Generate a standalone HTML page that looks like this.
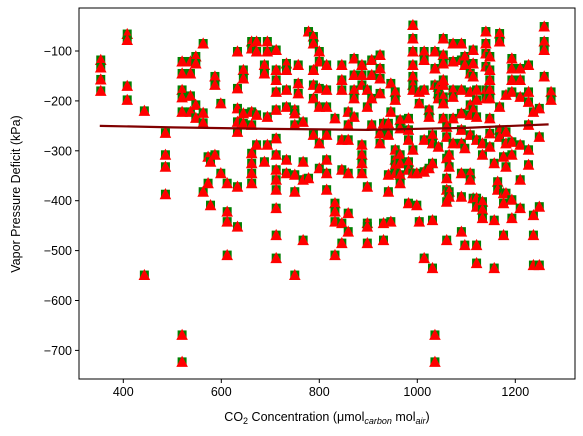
<!DOCTYPE html>
<html><head><meta charset="utf-8"><style>
body{margin:0;background:#fff;}
svg{display:block;font-family:"Liberation Sans","DejaVu Sans",sans-serif;}
</style></head><body>
<svg id="chart" width="583" height="436" viewBox="0 0 583 436">
<g id="marks"></g>
<g id="axes"></g>
<text x="327" y="421" text-anchor="middle" font-size="12.5">CO<tspan font-size="9" dy="3">2</tspan><tspan dy="-3"> Concentration (μmol</tspan><tspan font-size="9" dy="3" font-style="italic">carbon</tspan><tspan dy="-3"> mol</tspan><tspan font-size="9" dy="3" font-style="italic">air</tspan><tspan dy="-3">)</tspan></text>
<text transform="translate(20,194) rotate(-90)" text-anchor="middle" font-size="12.5">Vapor Pressure Deficit (kPa)</text>
</svg>
<script>
const xs=[354,354,354,354,408,408,408,408,443,443,486,486,486,486,520,520,520,520,520,520,520,537,537,537,537,548,548,548,548,563,563,563,563,573,573,
578,578,587,587,587,599,599,612,612,612,612,633,633,633,633,633,633,633,645,645,645,645,662,662,662,662,662,662,662,662,672,672,672,672,688,688,688,694,694,694,694,
712,712,712,712,712,712,712,712,712,712,712,712,712,733,733,733,733,733,733,750,750,750,750,750,750,757,757,757,767,767,767,767,778,778,788,788,788,788,788,788,
800,800,800,800,800,800,815,815,815,815,815,815,815,
832,832,832,832,832,846,846,846,846,846,846,846,859,859,859,859,859,859,871,871,871,871,871,887,887,887,887,887,887,887,898,898,898,898,898,898,907,907,907,907,
924,924,924,924,924,924,931,931,931,941,941,941,941,946,946,946,955,955,955,955,955,955,965,965,965,965,965,965,982,982,982,982,982,982,
991,991,991,991,991,991,991,991,991,999,999,1004,1004,1004,1014,1014,1014,1014,1014,1014,1024,1024,1024,1031,1031,1031,1031,1031,1036,1036,1036,1036,1036,
1043,1043,1043,1043,1053,1053,1053,1053,1053,1053,1053,1053,1060,1060,1060,1060,1060,1060,1060,
1073,1073,1073,1073,1073,1073,1065,1065,1065,1065,1090,1090,1090,1090,1090,1090,1090,1090,1090,1097,1097,1097,1097,1108,1108,1108,1108,1108,1108,1108,
1114,1114,1114,1114,1114,1121,1121,1121,1121,1121,1121,1121,1121,1133,1133,1133,1133,1133,1140,1140,1140,1140,1140,1140,
1148,1148,1148,1148,1148,1148,1148,1148,1157,1157,1157,1164,1164,1168,1168,1168,1168,1168,1176,1176,1176,1176,1181,1181,1181,1181,1181,
1193,1193,1193,1193,1193,1193,1193,1193,1210,1210,1210,1210,1210,1210,1227,1227,1227,1227,1227,1227,1237,1237,1237,1237,1249,1249,1249,1249,1259,1259,1259,1259,1273,1273];
const ys=[-118,-133,-157,-180,-66,-78,-170,-198,-220,-549,-264,-308,-332,-387,-121,-145,-178,-193,-222,-669,-723,-121,-145,-190,-222,-111,-125,-208,-234,-85,-224,-244,-382,-312,-365,
-322,-409,-151,-168,-308,-205,-345,-365,-422,-442,-509,-101,-175,-215,-242,-262,-372,-452,-138,-155,-225,-245,-81,-95,-222,-248,-305,-325,-345,-365,-81,-101,-228,-288,-128,-145,-322,-81,-101,-232,-288,
-98,-138,-158,-182,-218,-275,-308,-338,-358,-378,-415,-469,-515,-125,-138,-178,-212,-318,-345,-218,-225,-248,-348,-382,-549,-128,-165,-185,-242,-322,-358,-479,-61,-355,-71,-85,-138,-168,-195,-268,
-101,-121,-175,-212,-285,-335,-128,-178,-212,-268,-318,-345,-378,
-235,-405,-422,-442,-509,-128,-158,-178,-278,-338,-445,-485,-222,-248,-278,-345,-425,-462,-115,-148,-178,-195,-232,-128,-148,-168,-288,-308,-325,-345,-178,-212,-372,-445,-452,-485,-118,-148,-195,-248,
-108,-135,-155,-185,-265,-285,-245,-445,-479,-245,-268,-348,-382,-165,-222,-442,-182,-198,-298,-318,-328,-345,-238,-255,-308,-325,-348,-365,-235,-258,-278,-322,-338,-405,
-48,-75,-101,-128,-151,-168,-178,-298,-345,-409,-345,-182,-205,-442,-101,-118,-178,-278,-342,-515,-218,-232,-335,-268,-285,-325,-439,-535,-101,-135,-168,-669,-723,
-172,-185,-195,-292,-75,-108,-168,-192,-235,-125,-158,-205,-252,-272,-315,-355,-378,-402,-479,
-85,-121,-178,-192,-235,-285,-308,-332,-382,-392,-85,-118,-178,-225,-258,-285,-345,-392,-462,-111,-128,-295,-489,-145,-182,-208,-228,-268,-345,-358,
-98,-125,-151,-218,-395,-178,-198,-232,-278,-395,-412,-489,-525,-285,-308,-402,-418,-435,-61,-85,-105,-131,-178,-195,
-111,-138,-158,-178,-195,-235,-265,-292,-325,-439,-535,-362,-378,-65,-81,-212,-258,-272,-312,-385,-405,-469,-188,-262,-285,-332,-385,
-115,-135,-158,-182,-282,-308,-398,-435,-135,-158,-192,-288,-358,-415,-128,-182,-202,-248,-298,-328,-222,-429,-469,-529,-215,-272,-412,-529,-51,-81,-98,-151,-182,-198];
const trendX=[352,500,700,900,1100,1268];
const trendY=[-250,-253,-256,-258,-254,-247];
const xTicks=[400,600,800,1000,1200];
const yTicks=[-100,-200,-300,-400,-500,-600,-700];

const L=79,R=575,T=8,B=379;
function sx(v){return 123.3+(v-400)*0.49;}
function sy(v){return 51+(-100-v)*0.499;}
const NS="http://www.w3.org/2000/svg";
const marks=document.getElementById('marks');
const axes=document.getElementById('axes');
function mk(tag,attrs,parent){const e=document.createElementNS(NS,tag);for(const k in attrs)e.setAttribute(k,attrs[k]);parent.appendChild(e);return e;}

for(let i=0;i<xs.length;i++){
  const cx=sx(xs[i]),cy=sy(ys[i]);
  const g=mk('g',{},marks);
  
  
  mk('rect',{x:cx-4.5,y:cy-4.5,width:9,height:9,fill:'#008000'},g);
  mk('polygon',{points:`${cx},${cy-6.2} ${cx-5.8},${cy+5} ${cx+5.8},${cy+5}`,fill:'#ff0000'},g);
}
let d='';
for(let i=0;i<trendX.length;i++){d+=(i?'L':'M')+sx(trendX[i])+','+sy(trendY[i]);}
const tl=mk('path',{d:d,stroke:'#800000',"stroke-width":2.2,fill:'none'},marks);



const frame=mk('rect',{x:L,y:T,width:R-L,height:B-T,fill:'none',stroke:'#000',"stroke-width":1},axes);


xTicks.forEach(v=>{
  const x=sx(v);
  mk('line',{x1:x,x2:x,y1:B,y2:B+4,stroke:'#000'},axes);
  const t=mk('text',{x:x,y:B+17,"text-anchor":"middle","font-size":12.5},axes);
  t.textContent=v;
  
  
});
yTicks.forEach(v=>{
  const y=sy(v);
  mk('line',{x1:L-4,x2:L,y1:y,y2:y,stroke:'#000'},axes);
  const t=mk('text',{x:L-7,y:y+4.5,"text-anchor":"end","font-size":12.5},axes);
  t.textContent='\u2212'+Math.abs(v);
  
  
});
</script>
</body></html>
